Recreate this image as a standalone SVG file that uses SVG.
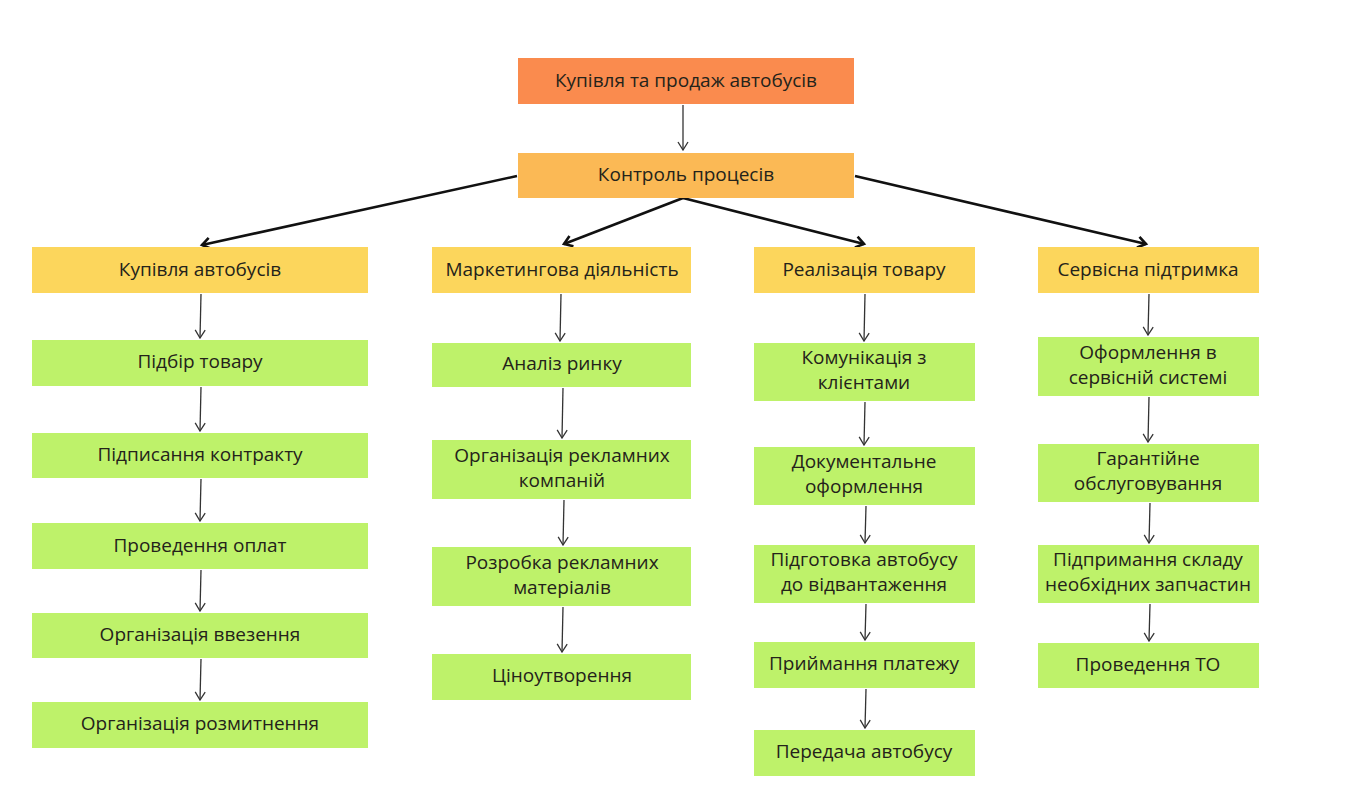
<svg xmlns="http://www.w3.org/2000/svg" width="1372" height="808" viewBox="0 0 1372 808">
<defs>
<style>
text{font-family:"Open Sans","Noto Sans","DejaVu Sans",sans-serif;font-size:19px;font-weight:500;fill:#24231a;text-anchor:middle;dominant-baseline:central}
.top{fill:#FA8B4E}
.ctl{fill:#FBB955}
.hdr{fill:#FCD65C}
.leaf{fill:#BEF26A}
.thin{stroke:#333;stroke-width:1.3;fill:none}
.thick{stroke:#111;stroke-width:2.6;fill:none}
</style>
<marker id="ah" viewBox="0 0 10 12" refX="9" refY="6" markerWidth="10" markerHeight="12" markerUnits="userSpaceOnUse" orient="auto">
<path d="M1,1 L9,6 L1,11" fill="none" stroke="#333" stroke-width="1.3"/>
</marker>
<marker id="ahb" viewBox="0 0 14 14" refX="11" refY="7" markerWidth="14" markerHeight="14" markerUnits="userSpaceOnUse" orient="auto">
<path d="M3,1.5 L11,7 L3,12.5" fill="none" stroke="#111" stroke-width="2.6"/>
</marker>
</defs>
<rect width="1372" height="808" fill="#fff"/>
<g id="connectors">
<line class="thin" x1="683" y1="105" x2="683" y2="150" marker-end="url(#ah)"/>
<line class="thick" x1="517" y1="176" x2="202" y2="245" marker-end="url(#ahb)"/>
<line class="thick" x1="683" y1="198" x2="564" y2="244" marker-end="url(#ahb)"/>
<line class="thick" x1="683" y1="198" x2="864" y2="244" marker-end="url(#ahb)"/>
<line class="thick" x1="855" y1="176" x2="1146" y2="244" marker-end="url(#ahb)"/>
<line class="thin" x1="201" y1="294" x2="200" y2="338" marker-end="url(#ah)"/>
<line class="thin" x1="201" y1="387" x2="200" y2="431" marker-end="url(#ah)"/>
<line class="thin" x1="201" y1="479" x2="200" y2="521" marker-end="url(#ah)"/>
<line class="thin" x1="201" y1="570" x2="200" y2="611" marker-end="url(#ah)"/>
<line class="thin" x1="201" y1="659" x2="200" y2="700" marker-end="url(#ah)"/>
<line class="thin" x1="561" y1="294" x2="560" y2="341" marker-end="url(#ah)"/>
<line class="thin" x1="563" y1="388" x2="562" y2="438" marker-end="url(#ah)"/>
<line class="thin" x1="564" y1="500" x2="563" y2="545" marker-end="url(#ah)"/>
<line class="thin" x1="563" y1="607" x2="562" y2="652" marker-end="url(#ah)"/>
<line class="thin" x1="865" y1="294" x2="864" y2="341" marker-end="url(#ah)"/>
<line class="thin" x1="865" y1="402" x2="864" y2="445" marker-end="url(#ah)"/>
<line class="thin" x1="866" y1="506" x2="865" y2="543" marker-end="url(#ah)"/>
<line class="thin" x1="866" y1="604" x2="865" y2="640" marker-end="url(#ah)"/>
<line class="thin" x1="866" y1="689" x2="865" y2="728" marker-end="url(#ah)"/>
<line class="thin" x1="1149" y1="294" x2="1148" y2="335" marker-end="url(#ah)"/>
<line class="thin" x1="1149" y1="397" x2="1148" y2="442" marker-end="url(#ah)"/>
<line class="thin" x1="1150" y1="503" x2="1149" y2="543" marker-end="url(#ah)"/>
<line class="thin" x1="1150" y1="604" x2="1149" y2="641" marker-end="url(#ah)"/>
</g>
<g id="n-top"><rect class="top" x="518" y="58" width="336" height="46"/><text x="686" y="80">Купівля та продаж автобусів</text></g>
<g id="n-ctl"><rect class="ctl" x="518" y="153" width="336" height="45"/><text x="686" y="174">Контроль процесів</text></g>
<g id="h1"><rect class="hdr" x="32" y="247" width="336" height="46"/><text x="200" y="269">Купівля автобусів</text></g>
<g id="h2"><rect class="hdr" x="432" y="247" width="259" height="46"/><text x="562" y="269">Маркетингова діяльність</text></g>
<g id="h3"><rect class="hdr" x="754" y="247" width="221" height="46"/><text x="864" y="269">Реалізація товару</text></g>
<g id="h4"><rect class="hdr" x="1038" y="247" width="221" height="46"/><text x="1148" y="269">Сервісна підтримка</text></g>
<g id="c1a"><rect class="leaf" x="32" y="340" width="336" height="46"/><text x="200" y="361">Підбір товару</text></g>
<g id="c1b"><rect class="leaf" x="32" y="433" width="336" height="45"/><text x="200" y="454">Підписання контракту</text></g>
<g id="c1c"><rect class="leaf" x="32" y="523" width="336" height="46"/><text x="200" y="545">Проведення оплат</text></g>
<g id="c1d"><rect class="leaf" x="32" y="613" width="336" height="45"/><text x="200" y="634">Організація ввезення</text></g>
<g id="c1e"><rect class="leaf" x="32" y="702" width="336" height="46"/><text x="200" y="723">Організація розмитнення</text></g>
<g id="c2a"><rect class="leaf" x="432" y="343" width="259" height="44"/><text x="562" y="363">Аналіз ринку</text></g>
<g id="c2b"><rect class="leaf" x="432" y="440" width="259" height="59"/><text x="562" y="455">Організація рекламних</text><text x="562" y="480">компаній</text></g>
<g id="c2c"><rect class="leaf" x="432" y="547" width="259" height="59"/><text x="562" y="562">Розробка рекламних</text><text x="562" y="587">матеріалів</text></g>
<g id="c2d"><rect class="leaf" x="432" y="654" width="259" height="46"/><text x="562" y="675">Ціноутворення</text></g>
<g id="c3a"><rect class="leaf" x="754" y="343" width="221" height="58"/><text x="864" y="357">Комунікація з</text><text x="864" y="382">клієнтами</text></g>
<g id="c3b"><rect class="leaf" x="754" y="447" width="221" height="58"/><text x="864" y="461">Документальне</text><text x="864" y="486">оформлення</text></g>
<g id="c3c"><rect class="leaf" x="754" y="545" width="221" height="58"/><text x="864" y="559">Підготовка автобусу</text><text x="864" y="584">до відвантаження</text></g>
<g id="c3d"><rect class="leaf" x="754" y="642" width="221" height="46"/><text x="864" y="663">Приймання платежу</text></g>
<g id="c3e"><rect class="leaf" x="754" y="730" width="221" height="46"/><text x="864" y="751">Передача автобусу</text></g>
<g id="c4a"><rect class="leaf" x="1038" y="337" width="221" height="59"/><text x="1148" y="352">Оформлення в</text><text x="1148" y="377">сервісній системі</text></g>
<g id="c4b"><rect class="leaf" x="1038" y="444" width="221" height="58"/><text x="1148" y="458">Гарантійне</text><text x="1148" y="483">обслуговування</text></g>
<g id="c4c"><rect class="leaf" x="1038" y="545" width="221" height="58"/><text x="1148" y="559">Підпримання складу</text><text x="1148" y="584">необхідних запчастин</text></g>
<g id="c4d"><rect class="leaf" x="1038" y="643" width="221" height="45"/><text x="1148" y="664">Проведення ТО</text></g>
</svg>
